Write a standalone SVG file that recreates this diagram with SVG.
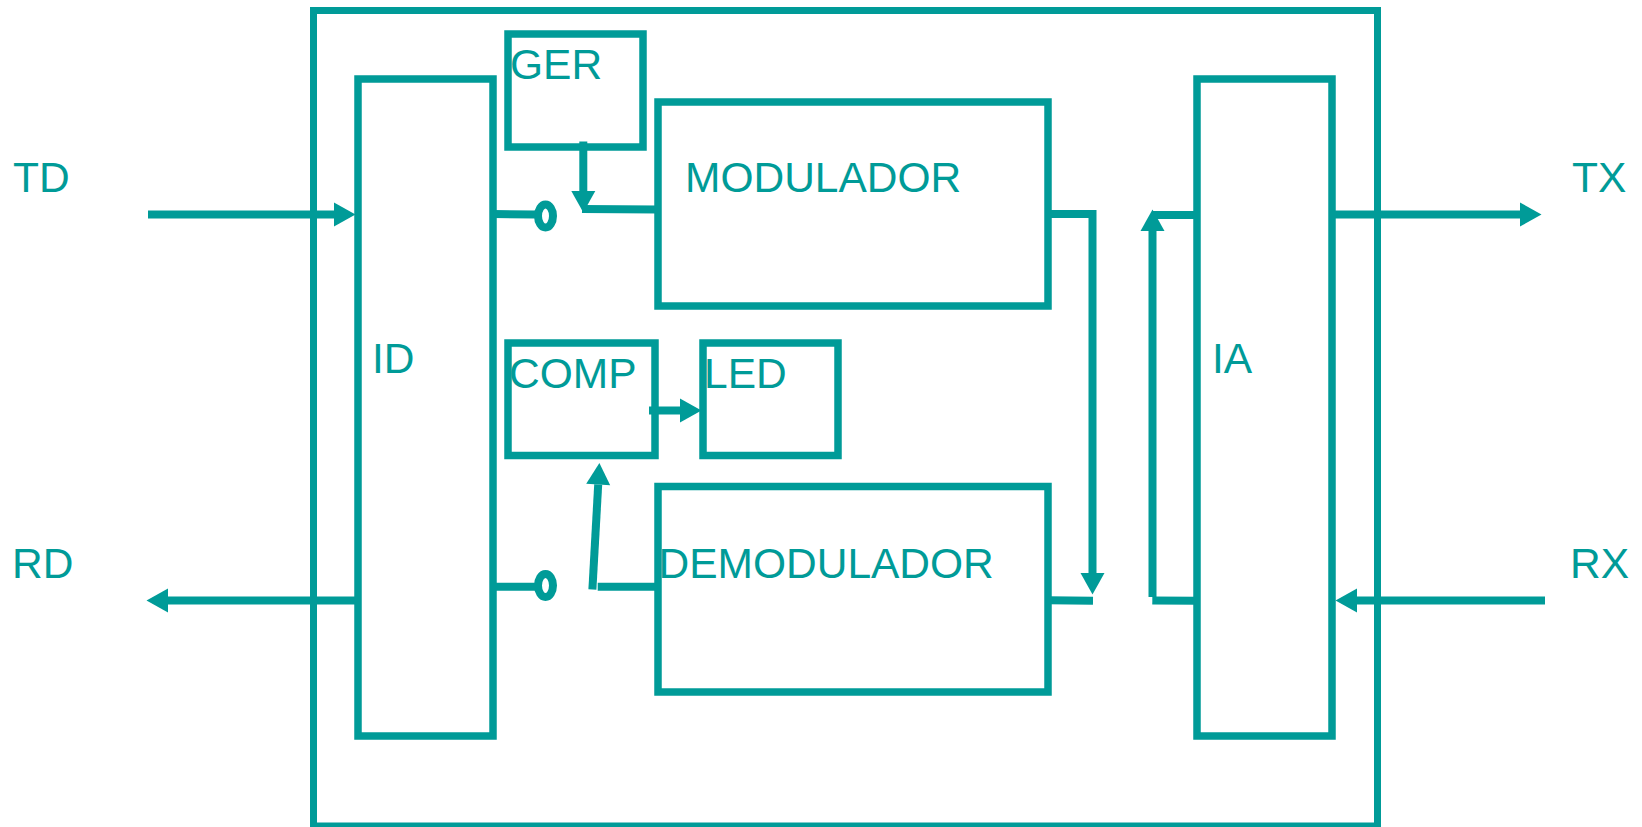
<svg xmlns="http://www.w3.org/2000/svg" width="1642" height="827" viewBox="0 0 1642 827">
<style>
.box{fill:none;stroke:#009b98;stroke-width:7.5}
.frame{fill:none;stroke:#009b98;stroke-width:7}
.con{fill:none;stroke:#009b98;stroke-width:8;stroke-linejoin:miter}
.t{font-family:"Liberation Sans",Arial,sans-serif;font-size:42.5px;fill:#009b98}
</style>
<defs>
<marker id="ah" markerUnits="userSpaceOnUse" markerWidth="22" markerHeight="24" refX="0" refY="12" orient="auto" overflow="visible">
<path d="M0,0 L21.5,12 L0,24 z" fill="#009b98"/>
</marker>
</defs>
<rect id="frame" class="frame" x="313.5" y="10.5" width="1064" height="815.5"/>
<g id="ID"><rect class="box" x="358" y="79" width="135" height="657"/><text class="t" x="372" y="373">ID</text></g>
<g id="GER"><rect class="box" x="508" y="34" width="135" height="113"/><text class="t" x="510" y="79.3">GER</text></g>
<g id="MODULADOR"><rect class="box" x="658" y="102" width="390" height="204"/><text class="t" x="685" y="191.7">MODULADOR</text></g>
<g id="COMP"><rect class="box" x="508" y="343" width="147" height="112.5"/><text class="t" x="509" y="388.3">COMP</text></g>
<g id="LED"><rect class="box" x="703" y="343" width="135" height="112.5"/><text class="t" x="704" y="388.3">LED</text></g>
<g id="DEMODULADOR"><rect class="box" x="658" y="486.5" width="390" height="205.5"/><text class="t" x="658.5" y="577.7">DEMODULADOR</text></g>
<g id="IA"><rect class="box" x="1197" y="79" width="135" height="657"/><text class="t" x="1212" y="372.7">IA</text></g>
<g id="TD"><text class="t" x="13" y="191.7">TD</text></g>
<g id="RD"><text class="t" x="12" y="577.7">RD</text></g>
<g id="TX"><text class="t" x="1572" y="191.7">TX</text></g>
<g id="RX"><text class="t" x="1570" y="577.5">RX</text></g>
<g id="switch-top"><ellipse class="con" cx="545.5" cy="216" rx="7.5" ry="11.5"/></g>
<g id="switch-bottom"><ellipse class="con" cx="545.5" cy="585.5" rx="7.5" ry="11.5"/></g>
<g id="connectors">
<path class="con" d="M148,214.5 L334,214.5" marker-end="url(#ah)"/>
<path class="con" d="M1332,214.5 L1520,214.5" marker-end="url(#ah)"/>
<path class="con" d="M1545,600.5 L1357,600.5" marker-end="url(#ah)"/>
<path class="con" d="M358,600.5 L168,600.5" marker-end="url(#ah)"/>
<path class="con" d="M493,214 L535,214.5"/>
<path class="con" d="M493,586.7 L535,586.7"/>
<path class="con" d="M583.3,141.5 L583.3,191" marker-end="url(#ah)"/>
<path class="con" d="M582,209 L658,209.5"/>
<path class="con" d="M649,410.5 L680,410.5" marker-end="url(#ah)"/>
<path class="con" d="M592.4,589.5 L598.2,484.5" marker-end="url(#ah)"/>
<path class="con" d="M597.7,586.7 L658,586.7"/>
<path class="con" d="M1048,214 L1092.5,214 L1092.5,573" marker-end="url(#ah)"/>
<path class="con" d="M1048,600.3 L1093,600.7"/>
<path class="con" d="M1152.5,597 L1152.5,231" marker-end="url(#ah)"/>
<path class="con" d="M1152,215 L1197,215"/>
<path class="con" d="M1152.3,600.5 L1197,600.8"/>
</g>
</svg>
